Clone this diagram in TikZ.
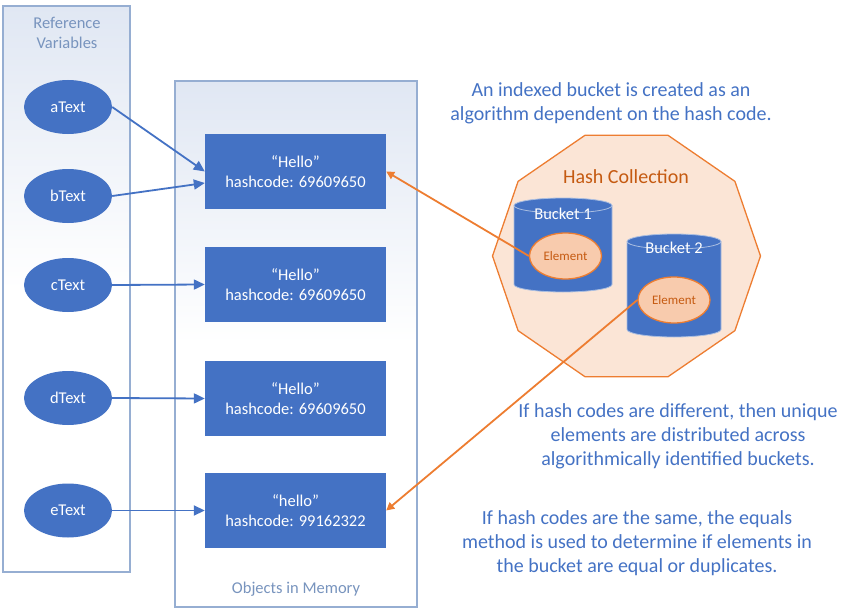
\documentclass[tikz,border=0pt]{standalone}
\usepackage{fontspec}
\setmainfont{Carlito}
\usetikzlibrary{shapes.geometric,arrows.meta}
\definecolor{objblue}{RGB}{68,114,196}
\definecolor{panelline}{RGB}{150,174,210}
\definecolor{panelfill}{RGB}{224,231,243}
\definecolor{paneltext}{RGB}{120,148,190}
\definecolor{hashfill}{RGB}{251,229,214}
\definecolor{hashorange}{RGB}{237,125,49}
\definecolor{hashtext}{RGB}{197,90,17}
\definecolor{elemfill}{RGB}{248,203,173}
\definecolor{bucketline}{RGB}{170,190,225}
\begin{document}
\begin{tikzpicture}[x=1pt,y=-1pt]
        \tikzstyle{panel}=[draw=panelline,line width=1.5pt,top color=panelfill,bottom color=white,middle color=white]
        \tikzstyle{paneltitle}=[text=paneltext,align=center,font=\fontsize{16.5}{20}\selectfont]
        \tikzstyle{refvar}=[ellipse,fill=objblue,text=white,minimum width=88pt,minimum height=54pt,inner sep=0pt,font=\fontsize{16.5}{20}\selectfont]
        \tikzstyle{object}=[rectangle,fill=objblue,text=white,minimum width=181pt,minimum height=75pt,align=center,font=\fontsize{16.5}{20}\selectfont]
        \tikzstyle{collection}=[draw=hashorange,fill=hashfill,line width=1.3pt]
        \tikzstyle{bucket}=[fill=objblue,draw=bucketline,line width=0.8pt]
        \tikzstyle{element}=[ellipse,fill=elemfill,draw=hashorange,line width=1.3pt,text=hashtext,minimum width=72pt,minimum height=46pt,inner sep=0pt,font=\fontsize{13}{15}\selectfont]
        \tikzstyle{note}=[text=objblue,align=center,font=\fontsize{20}{24}\selectfont]
        \tikzstyle{edge}=[line width=1.8pt,objblue,-{Triangle[length=11pt,width=10pt]}]
        \tikzstyle{hashedge}=[line width=1.8pt,hashorange,-{Triangle[length=8pt,width=8pt]}]
        \useasboundingbox (0,0) rectangle (841,610);
       \begin{scope}
         \draw[panel] (3,6) rectangle (130,572);
         \node [paneltitle] (reftitle) at (67,33) {Reference\\Variables};
         \node [refvar] (aText) at (68,107) {aText};
         \node [refvar] (bText) at (68,196) {bText};
         \node [refvar] (cText) at (68,285) {cText};
         \node [refvar] (dText) at (68,398) {dText};
         \node [refvar] (eText) at (68,510.5) {eText};
        \end{scope}
       \begin{scope}
         \draw[panel] (175,81) rectangle (417,607);
         \node [paneltitle] (memtitle) at (296,589) {Objects in Memory};
         \node [object] (box1) at (295.5,171.5) {“Hello”\\hashcode: 69609650};
         \node [object] (box2) at (295.5,284.5) {“Hello”\\hashcode: 69609650};
         \node [object] (box3) at (295.5,398.5) {“Hello”\\hashcode: 69609650};
         \node [object] (box4) at (295.5,510.5) {“hello”\\hashcode: 99162322};
        \end{scope}
       \begin{scope}
         \draw[collection] plot[samples at={0,36,...,324}] ({626.5+134*cos(\x)},{256+127*sin(\x)}) -- cycle;
         \node [text=hashtext,font=\fontsize{20}{24}\selectfont] (hashtitle) at (626,177) {Hash Collection};
         % buckets
         \path[bucket] (514,205.5) -- (514,284.5) arc[start angle=180,end angle=360,x radius=49pt,y radius=7.5pt]
           -- (612,205.5) arc[start angle=0,end angle=180,x radius=49pt,y radius=7.5pt] -- cycle;
         \draw[bucketline,line width=0.8pt] (514,205.5) arc[start angle=180,end angle=360,x radius=49pt,y radius=7.5pt];
         \path[bucket] (627,241.5) -- (627,329.5) arc[start angle=180,end angle=360,x radius=47pt,y radius=7.5pt]
           -- (721,241.5) arc[start angle=0,end angle=180,x radius=47pt,y radius=7.5pt] -- cycle;
         \draw[bucketline,line width=0.8pt] (627,241.5) arc[start angle=180,end angle=360,x radius=47pt,y radius=7.5pt];
         \node [text=white,font=\fontsize{16.5}{20}\selectfont] (bucket1) at (563,214) {Bucket 1};
         \node [text=white,font=\fontsize{16.5}{20}\selectfont] (bucket2) at (674,248) {Bucket 2};
         \node [element] (el1) at (565.5,256) {Element};
         \node [element] (el2) at (674,300) {Element};
        \end{scope}
         \node [note] (note1) at (611,103) {An indexed bucket is created as an\\algorithm dependent on the hash code.};
         \node [note] (note2) at (678,436) {If hash codes are different, then unique\\elements are distributed across\\algorithmically identified buckets.};
         \node [note] (note3) at (637,543) {If hash codes are the same, the equals\\method is used to determine if elements in\\the bucket are equal or duplicates.};
         \draw[edge] (aText.east) -- (box1.west);
         \draw[edge] (bText.east) -- ([yshift=-11.5pt]box1.west);
         \draw[edge] (cText.east) -- (box2.west);
         \draw[edge] (dText.east) -- (box3.west);
         \draw[edge] (eText.east) -- (box4.west);
         \draw[hashedge] (el1.west) -- (box1.east);
         \draw[hashedge] (el2.west) -- (box4.east);
      \end{tikzpicture}
\end{document}
